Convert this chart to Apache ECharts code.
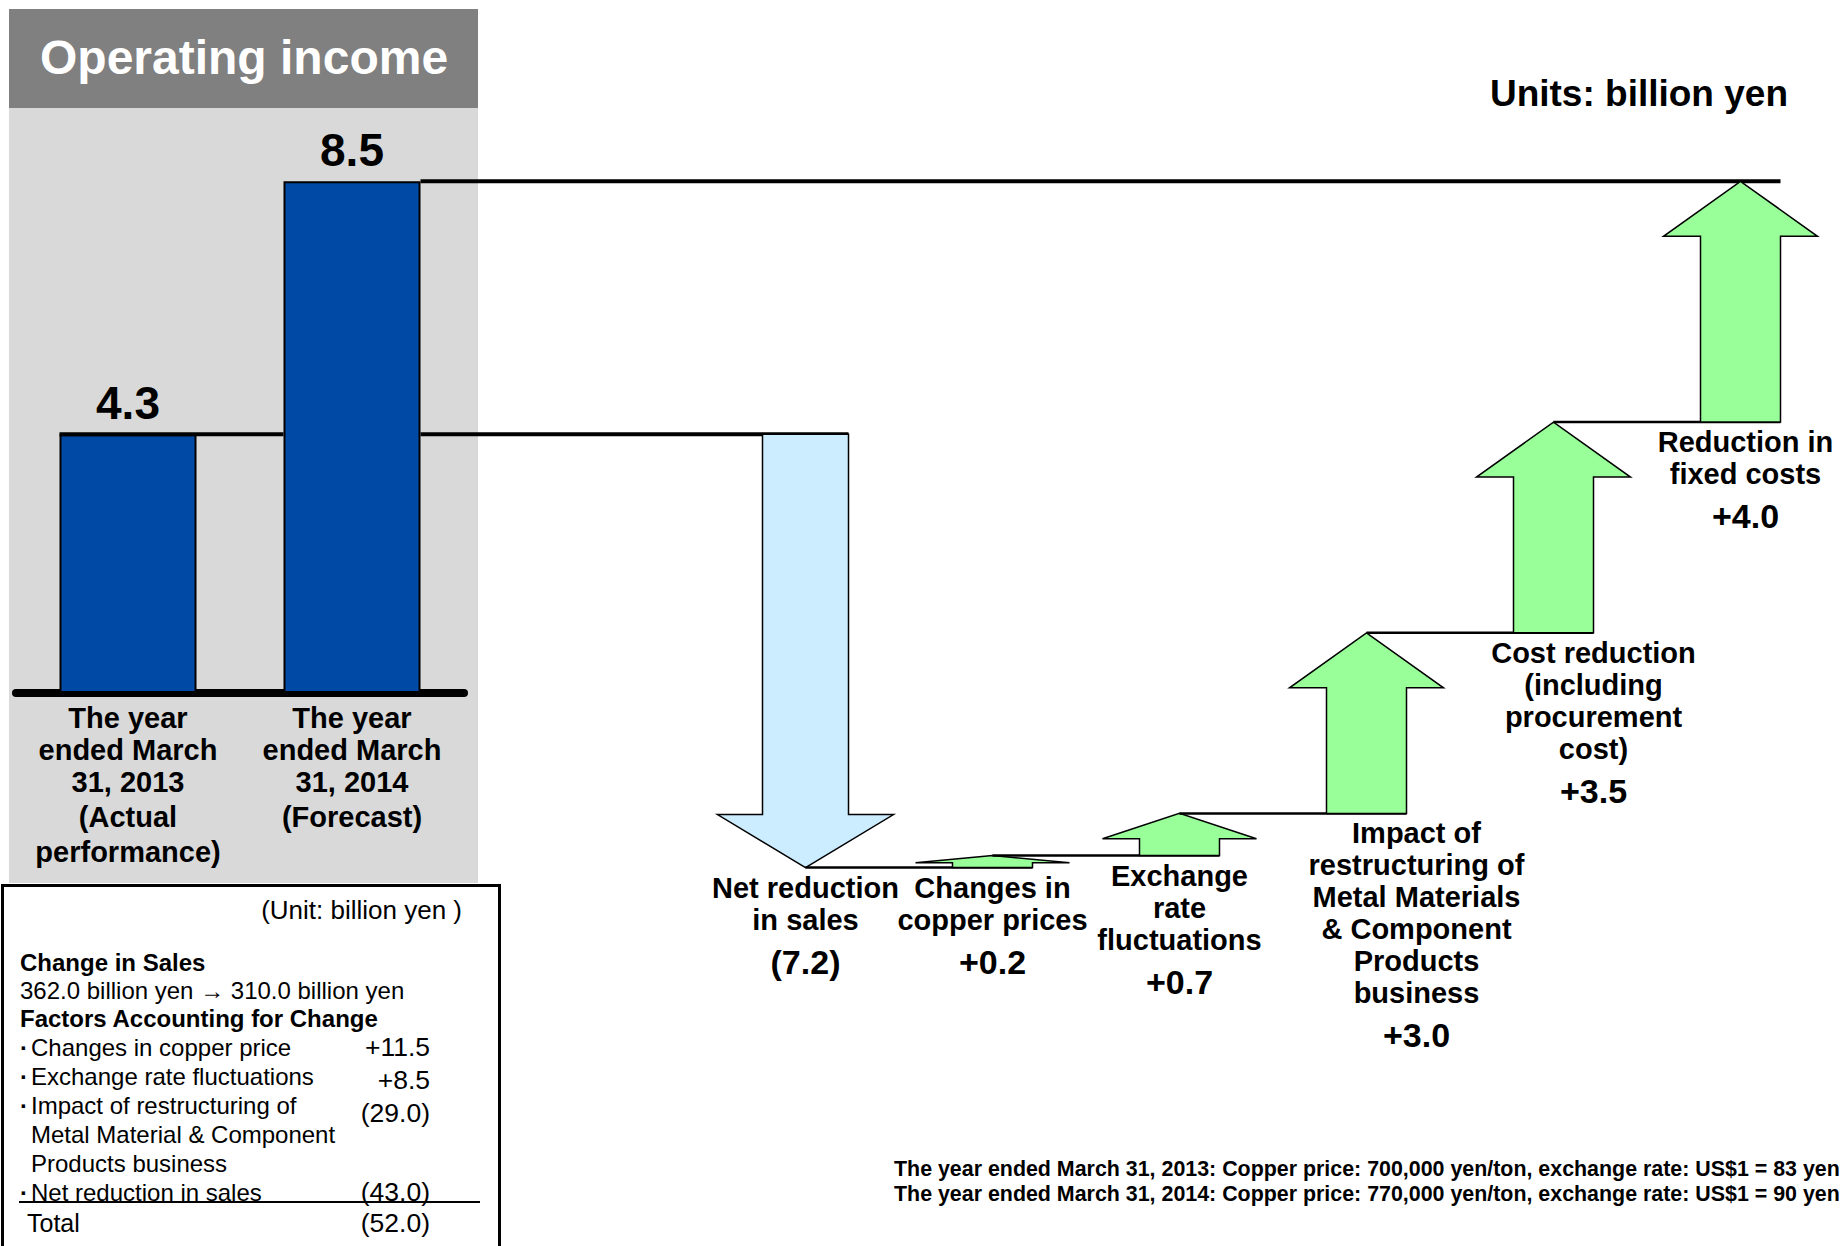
<!DOCTYPE html>
<html><head><meta charset="utf-8">
<script src="https://cdn.jsdelivr.net/npm/echarts@6/dist/echarts.min.js"></script>
<style>html,body{margin:0;padding:0;background:#fff}#c{width:1840px;height:1246px}</style>
</head><body><div id="c"></div>
<script>
// ---------- data ----------
const titleText = 'Operating income';
const unitText = 'Units: billion yen';
const baseCategories = ['The year\nended March\n31, 2013', 'The year\nended March\n31, 2014'];
const baseNotes = ['(Actual\nperformance)', '(Forecast)'];
const baseValues = [4.3, 8.5];
const factorNames = [
  'Net reduction\nin sales',
  'Changes in\ncopper prices',
  'Exchange\nrate\nfluctuations',
  'Impact of\nrestructuring of\nMetal Materials\n& Component\nProducts\nbusiness',
  'Cost reduction\n(including\nprocurement\ncost)',
  'Reduction in\nfixed costs'
];
const factorValues = [-7.2, 0.2, 0.7, 3.0, 3.5, 4.0];
const tableUnit = '(Unit: billion yen )';
const salesHeading = 'Change in Sales';
const salesChange = '362.0 billion yen \u2192 310.0 billion yen';
const factorsHeading = 'Factors Accounting for Change';
const salesFactorNames = ['Changes in copper price', 'Exchange rate fluctuations',
  'Impact of restructuring of\nMetal Material & Component\nProducts business', 'Net reduction in sales'];
const salesFactorValues = [11.5, 8.5, -29.0, -43.0];
const salesTotalLabel = 'Total';
const salesTotal = -52.0;
const footnotes = [
  'The year ended March 31, 2013: Copper price: 700,000 yen/ton, exchange rate: US$1 = 83 yen',
  'The year ended March 31, 2014: Copper price: 770,000 yen/ton, exchange rate: US$1 = 90 yen'
];

// ---------- layout ----------
const FONT = "'Liberation Sans', Arial, Helvetica, sans-serif";
const G1 = {left: 16, width: 448, top: 151.2, height: 541.8};
const G2 = {left: 712, width: 1122, top: 151.2, height: 722.4};
const BAR_W = 137;
const BAR2_RIGHT = G1.left + G1.width * 0.75 + BAR_W / 2;
const LABEL_DX = [0, 0, 0, 50, 40, 5];

const fmt = v => v < 0 ? '(' + Math.abs(v).toFixed(1) + ')' : '+' + v.toFixed(1);

// waterfall steps
const starts = [], ends = [];
let run = baseValues[0];
factorValues.forEach(v => { starts.push(run); run = Math.round((run + v) * 1000) / 1000; ends.push(run); });
const waterfallData = factorValues.map((v, i) => [i, starts[i], ends[i], v]);

function renderArrow(params, api) {
  const i = api.value(0), s = api.value(1), e = api.value(2), v = api.value(3);
  const p0 = api.coord([i, s]), p1 = api.coord([i, e]);
  const x = p0[0], y0 = p0[1], y1 = p1[1];
  const band = api.size([1, 0])[0];
  const up = y1 < y0;
  const SH = up ? 40 : 43, HW = up ? 77 : 88;
  const len = Math.abs(y1 - y0);
  const head = Math.min(len * 0.6, up ? 55 : 53);
  const yb = up ? y1 + head : y1 - head;
  const children = [];
  const fromX = i === 0 ? BAR2_RIGHT : x - band;
  children.push({type: 'line', shape: {x1: fromX, y1: y0, x2: x + SH, y2: y0},
    style: {stroke: '#000', lineWidth: i === 0 ? 4 : 2.5}});
  if (i === factorValues.length - 1) {
    children.push({type: 'line', shape: {x1: BAR2_RIGHT, y1: y1, x2: x + SH, y2: y1},
      style: {stroke: '#000', lineWidth: 4}});
  }
  children.push({type: 'polygon', shape: {points: [[x - SH, y0], [x - SH, yb], [x - HW, yb], [x, y1], [x + HW, yb], [x + SH, yb], [x + SH, y0]]},
    style: {fill: up ? '#99FF99' : '#CCECFF', stroke: '#000', lineWidth: 1.5}});
  const low = Math.max(y0, y1);
  const txt = factorNames[i].split('\n').map(t => '{n|' + t + '}').join('\n') + '\n{v|' + fmt(v) + '}';
  children.push({type: 'text', x: x + LABEL_DX[i], y: low + 4,
    style: {text: txt, align: 'center', verticalAlign: 'top', textAlign: 'center', textVerticalAlign: 'top', fill: '#000',
      rich: {
        n: {fontSize: 29, fontWeight: 'bold', fontFamily: FONT, lineHeight: 32, fill: '#000', align: 'center'},
        v: {fontSize: 34, fontWeight: 'bold', fontFamily: FONT, lineHeight: 52, fill: '#000', align: 'center'}
      }}});
  return {type: 'group', children};
}

function renderBarLink(params, api) {
  const i = api.value(0), val = api.value(1);
  if (i !== 0) return {type: 'group', children: []};
  const p = api.coord([i, val]);
  const band = api.size([1, 0])[0];
  return {type: 'line', shape: {x1: p[0] - BAR_W / 2, y1: p[1], x2: p[0] + band - BAR_W / 2, y2: p[1]},
    style: {stroke: '#000', lineWidth: 4}};
}

// ---------- graphic (panel, title, table, notes) ----------
const T = (x, y, text, o) => Object.assign({type: 'text', x, y, z: 100,
  style: Object.assign({text, fill: '#000', fontFamily: FONT, fontSize: 24, align: 'left', verticalAlign: 'middle',
    textAlign: 'left', textVerticalAlign: 'middle'}, o || {})});
const graphics = [
  {type: 'rect', z: -2, shape: {x: 9, y: 108, width: 469, height: 775}, style: {fill: '#D9D9D9'}},
  {type: 'rect', z: -2, shape: {x: 9, y: 9, width: 469, height: 99}, style: {fill: '#808080'}},
  T(40, 57, titleText, {fill: '#fff', fontSize: 48, fontWeight: 'bold'}),
  T(1788, 93, unitText, {fontSize: 37, fontWeight: 'bold', align: 'right', textAlign: 'right'}),
  {type: 'rect', z: -1, shape: {x: 2.5, y: 885.5, width: 497, height: 380}, style: {fill: '#fff', stroke: '#000', lineWidth: 3}},
  T(462, 910, tableUnit, {fontSize: 26, align: 'right', textAlign: 'right'}),
  T(20, 962, salesHeading, {fontWeight: 'bold'}),
  T(20, 990, salesChange),
  T(20, 1018, factorsHeading, {fontWeight: 'bold'})
];
const ROW_Y = [1047, 1076, 1105, 1192];
const VAL_Y = [1047, 1080, 1113, 1192];
salesFactorNames.forEach((n, i) => {
  graphics.push(T(20, ROW_Y[i], '\u00B7', {fontWeight: 'bold', lineHeight: 14}));
  graphics.push(T(31, ROW_Y[i] - 14.5, n, {verticalAlign: 'top', textVerticalAlign: 'top', lineHeight: 29}));
  graphics.push(T(430, VAL_Y[i], fmt(salesFactorValues[i]), {fontSize: 26.5, align: 'right', textAlign: 'right'}));
});
graphics.push({type: 'line', z: 100, shape: {x1: 19, y1: 1202, x2: 480, y2: 1202}, style: {stroke: '#000', lineWidth: 2}});
graphics.push(T(27, 1223, salesTotalLabel, {fontSize: 25}));
graphics.push(T(430, 1223, fmt(salesTotal), {fontSize: 26.5, align: 'right', textAlign: 'right'}));
footnotes.forEach((f, i) => graphics.push(T(894, 1169 + 25 * i, f, {fontSize: 21.4, fontWeight: 'bold'})));

// ---------- chart ----------
const chart = echarts.init(document.getElementById('c'), null, {renderer: 'svg'});
chart.setOption({
  animation: false,
  backgroundColor: '#fff',
  graphic: {elements: graphics},
  grid: [G1, G2],
  xAxis: [
    {type: 'category', gridIndex: 0, data: baseCategories,
      axisLine: {lineStyle: {color: '#000', width: 8}}, axisTick: {show: false},
      axisLabel: {interval: 0, margin: 9,
        formatter: (val, idx) => val.split('\n').map(t => '{a|' + t + '}').join('\n') + '\n' +
          baseNotes[idx].split('\n').map((t, k) => '{' + (k === 0 ? 'b' : 'a') + '|' + t + '}').join('\n'),
        rich: {
          a: {fontSize: 29, fontWeight: 'bold', fontFamily: FONT, color: '#000', lineHeight: 32},
          b: {fontSize: 29, fontWeight: 'bold', fontFamily: FONT, color: '#000', lineHeight: 38}
        }}},
    {type: 'category', gridIndex: 1, data: factorNames, show: false}
  ],
  yAxis: [
    {type: 'value', gridIndex: 0, min: 0, max: 9, show: false},
    {type: 'value', gridIndex: 1, min: -3, max: 9, show: false}
  ],
  series: [
    {type: 'bar', xAxisIndex: 0, yAxisIndex: 0, data: baseValues, barWidth: BAR_W,
      itemStyle: {color: '#004AA5', borderColor: '#000', borderWidth: 2},
      label: {show: true, position: 'top', distance: 8, fontSize: 46, fontWeight: 'bold', fontFamily: FONT, color: '#000',
        formatter: p => p.value.toFixed(1)}},
    {type: 'custom', xAxisIndex: 0, yAxisIndex: 0, z: 3, data: baseValues.map((v, i) => [i, v]), renderItem: renderBarLink},
    {type: 'custom', xAxisIndex: 1, yAxisIndex: 1, z: 3, data: waterfallData, renderItem: renderArrow}
  ]
});
</script></body></html>
